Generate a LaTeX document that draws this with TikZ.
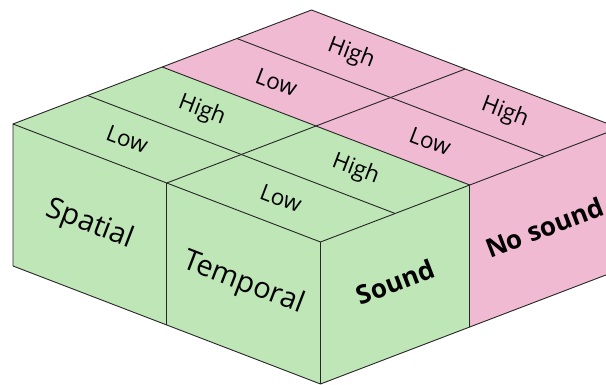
\documentclass[tikz,border=0pt]{standalone}
\usepackage{fontspec}
\setmainfont{Open Sans}

\definecolor{soundgreen}{RGB}{190,230,182}
\definecolor{quietpink}{RGB}{240,186,210}

\begin{document}
\begin{tikzpicture}[
x={(298.5pt,114pt)}, y={(-307.5pt,118pt)}, z={(0pt,142pt)},
boxline/.style={draw=black!85,line width=0.9pt,line join=round},
toplabel/.style={rotate=-21,font=\fontsize{22.5}{22.5}\selectfont},
leftlabel/.style={rotate=-21,font=\fontsize{29}{29}\selectfont},
rightlabel/.style={rotate=21,font=\bfseries\fontsize{26}{26}\selectfont}
]
\useasboundingbox (0pt,0pt) rectangle (606pt,385pt);
\clip (0pt,0pt) rectangle (606pt,385pt);
\begin{scope}[shift={(320.5pt,1pt)}]
% faces
\fill[soundgreen] (0,0,0) -- (0,1,0) -- (0,1,1) -- (0,0,1) -- cycle;
\fill[soundgreen] (0,0,0) -- (0.5,0,0) -- (0.5,0,1) -- (0,0,1) -- cycle;
\fill[quietpink] (0.5,0,0) -- (1,0,0) -- (1,0,1) -- (0.5,0,1) -- cycle;
\fill[soundgreen] (0,0,1) -- (0.5,0,1) -- (0.5,1,1) -- (0,1,1) -- cycle;
\fill[quietpink] (0.5,0,1) -- (1,0,1) -- (1,1,1) -- (0.5,1,1) -- cycle;
% edges
\draw[boxline] (0,1,0) -- (0,0,0) -- (1,0,0) -- (1,0,1) -- (1,1,1) -- (0,1,1) -- cycle;
\draw[boxline] (0,1,1) -- (0,0,1) -- (1,0,1);
\draw[boxline] (0,0,0) -- (0,0,1);
\draw[boxline] (0,0.5,0) -- (0,0.5,1);
\draw[boxline] (0.5,0,0) -- (0.5,0,1);
\draw[boxline] (0,0.5,1) -- (1,0.5,1);
\foreach \a in {0.25,0.5,0.75}
  \draw[boxline] (\a,0,1) -- (\a,1,1);
% labels
\foreach \row/\b in {front/0.25,back/0.75}
  \foreach \col/\a/\txt in {1/0.125/Low,2/0.375/High,3/0.625/Low,4/0.875/High}
    \node[toplabel] (\row-\col) at (\a,\b,1) {\txt};
\node[leftlabel] (spatial) at (0,0.75,0.5) {Spatial};
\node[leftlabel] (temporal) at (0,0.25,0.5) {Temporal};
\node[rightlabel] (sound) at (0.25,0,0.52) {Sound};
\node[rightlabel] (nosound) at (0.75,0,0.5) {No sound};
\end{scope}
\end{tikzpicture}
\end{document}
